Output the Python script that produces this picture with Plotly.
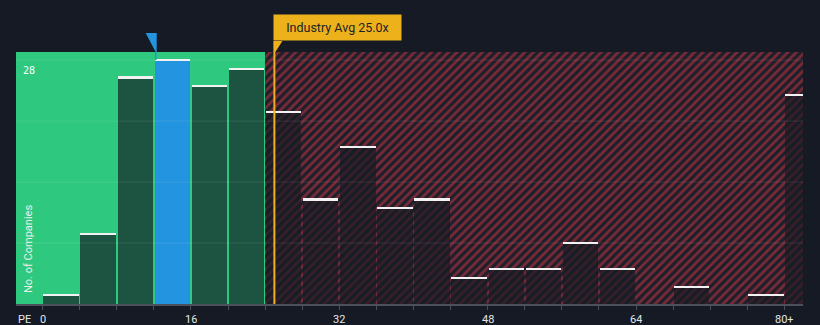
import plotly.graph_objects as go

# ---- data ----
bin_starts = [0, 4, 8, 12, 16, 20, 24, 28, 32, 36, 40, 44, 48, 52, 56, 60, 64, 68, 72, 76, 80]
counts = [1, 8, 26, 28, 25, 27, 22, 12, 18, 11, 12, 3, 4, 4, 7, 4, 0, 2, 0, 1, 24]
tick_vals = [0, 16, 32, 48, 64, 80]
tick_text = ["0", "16", "32", "48", "64", "80+"]
industry_avg = 25.0
company_pe = 12.2
y_label_value = 28
grid_values = [7, 14, 21, 28]

BIN_W = 4
X_MIN, X_MAX = -2.86, 82.0
Y_MAX = 28.93

BG = "#151a25"
GREEN = "#2ec97f"
BLUE = "#2394df"
GOLD = "#ecb11b"
LABEL = "#e6e6e6"

centers = [b + BIN_W / 2 for b in bin_starts]
highlight_idx = next(i for i, b in enumerate(bin_starts) if b <= company_pe < b + BIN_W)
bar_colors = [BLUE if i == highlight_idx else "rgba(21,27,36,0.68)" for i in range(len(counts))]

fig = go.Figure()

# hatched "above average" background region
fig.add_trace(go.Bar(
    x=[(BIN_W * 6 + X_MAX) / 2], y=[Y_MAX], width=[X_MAX - BIN_W * 6],
    marker=dict(color="#1d1f2b", line=dict(width=0),
                pattern=dict(shape="/", fgcolor="#7b2a37", bgcolor="#1d1f2b",
                             size=6, solidity=0.45, fillmode="replace")),
    hoverinfo="skip", showlegend=False,
))

# histogram bars
fig.add_trace(go.Bar(
    x=centers, y=counts, width=[BIN_W * 0.955] * len(counts),
    marker=dict(color=bar_colors, line=dict(width=0)),
    showlegend=False,
))

# white caps on top of bars
cap_x = [c for c, v in zip(centers, counts) if v > 0]
cap_base = [v for v in counts if v > 0]
fig.add_trace(go.Bar(
    x=cap_x, y=[0.24] * len(cap_x), base=[v - 0.12 for v in cap_base],
    width=[BIN_W * 0.955] * len(cap_x),
    marker=dict(color="#f2f2f2", line=dict(width=0)),
    hoverinfo="skip", showlegend=False,
))

shapes = []
# green "below average" region
shapes.append(dict(type="rect", xref="x", yref="paper", x0=X_MIN, x1=BIN_W * 6,
                   y0=0, y1=1, fillcolor=GREEN, line=dict(width=0), layer="below"))
# grid lines
for g in grid_values:
    shapes.append(dict(type="line", xref="paper", yref="y", x0=0, x1=1, y0=g, y1=g,
                       line=dict(color="rgba(255,255,255,0.10)", width=1), layer="above"))
# industry average line
shapes.append(dict(type="line", xref="x", yref="paper", x0=industry_avg, x1=industry_avg,
                   y0=0, y1=1, line=dict(color=GOLD, width=2), layer="above"))
# tail of industry label
shapes.append(dict(type="path", xref="x", yref="paper", xsizemode="pixel", ysizemode="pixel",
                   xanchor=industry_avg, yanchor=1,
                   path="M -1,11 L 8,11 L 1,0 L -1,0 Z",
                   fillcolor=GOLD, line=dict(width=0), layer="above"))
# company pointer (pennant)
shapes.append(dict(type="path", xref="x", yref="paper", xsizemode="pixel", ysizemode="pixel",
                   xanchor=company_pe, yanchor=1,
                   path="M -10,19 L 1,19 L 1,0 L 0,0 Z",
                   fillcolor=BLUE, line=dict(width=0), layer="above"))
shapes.append(dict(type="line", xref="x", yref="y", x0=company_pe, x1=company_pe,
                   y0=counts[highlight_idx], y1=Y_MAX, line=dict(color=BLUE, width=1.5),
                   layer="above"))

annotations = [
    dict(text="Industry Avg 25.0x", xref="x", yref="paper", x=industry_avg, y=1,
         xanchor="left", yanchor="bottom", xshift=-1, yshift=11, showarrow=False,
         font=dict(family="Roboto", size=12.5, color="#1c1f29"),
         bgcolor=GOLD, width=127, height=25, borderpad=0, align="center"),
    dict(text=str(y_label_value), xref="paper", yref="y", x=0, y=y_label_value,
         xanchor="left", yanchor="top", xshift=5, yshift=-3, showarrow=False,
         font=dict(family="DejaVu Sans Mono", size=10, color="#ffffff")),
    dict(text="No. of Companies", xref="paper", yref="paper", x=0, y=0,
         xanchor="center", yanchor="bottom", xshift=12, yshift=9, textangle=-90,
         showarrow=False, font=dict(family="Roboto", size=11, color="#e8f0ec")),
    dict(text="PE", xref="paper", yref="paper", x=0, y=0, xanchor="left", yanchor="middle",
         xshift=1, yshift=-15, height=11, borderpad=0, showarrow=False,
         font=dict(family="Roboto", size=11, color=LABEL)),
]
for v, t in zip(tick_vals, tick_text):
    annotations.append(dict(text=t, xref="x", yref="paper", x=v, y=0,
                            xanchor="center", yanchor="middle", yshift=-15,
                            height=11, borderpad=0, showarrow=False,
                            font=dict(family="Roboto", size=11, color=LABEL)))

fig.update_layout(
    width=820, height=325,
    margin=dict(l=16, r=17, t=52, b=21),
    paper_bgcolor=BG, plot_bgcolor=BG,
    barmode="overlay", bargap=0,
    shapes=shapes, annotations=annotations,
    xaxis=dict(range=[X_MIN, X_MAX], showgrid=False, zeroline=False, automargin=False,
               showline=True, linecolor="#4a4f5a", linewidth=1.5,
               ticks="outside", ticklen=4, tickcolor="#4a4f5a",
               tickvals=bin_starts, showticklabels=False,
               fixedrange=True),
    yaxis=dict(range=[0, Y_MAX], showgrid=False, zeroline=False, showticklabels=False,
               automargin=False, fixedrange=True),
    font=dict(family="Roboto"),
)

fig.write_html("out.html")
